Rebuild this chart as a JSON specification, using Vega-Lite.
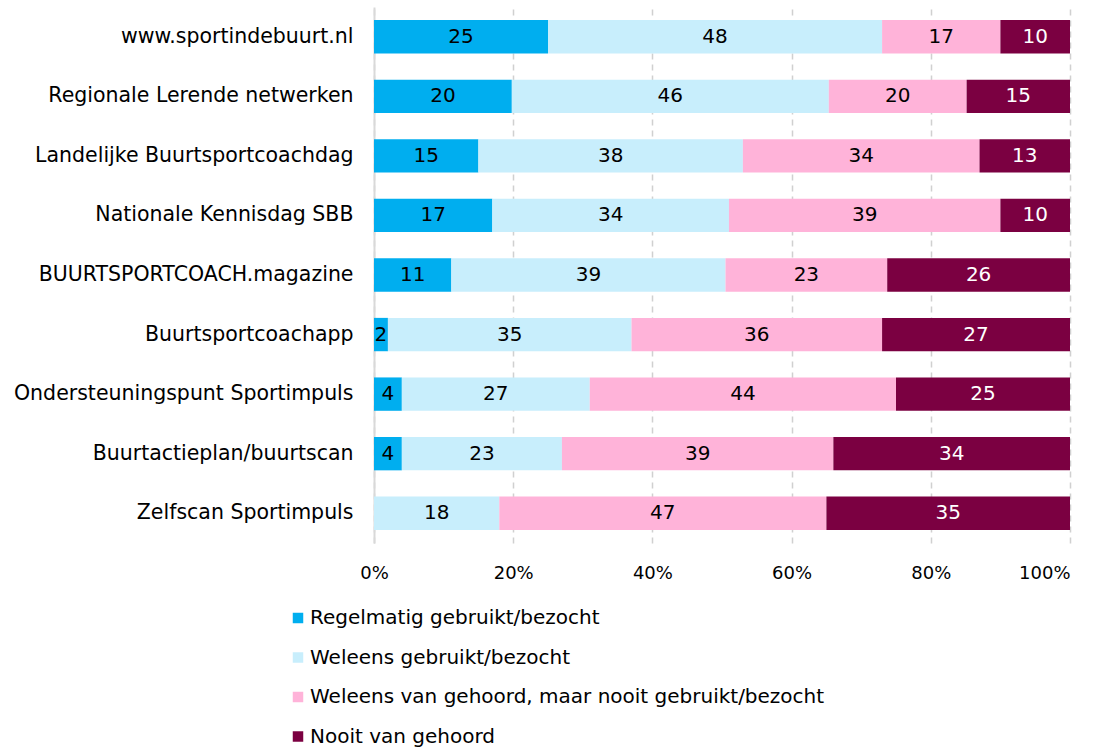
{
  "$schema": "https://vega.github.io/schema/vega-lite/v6.json",
  "width": 696,
  "height": 536,
  "autosize": "none",
  "padding": {"left": 374, "top": 7, "right": 31, "bottom": 206},
  "background": "white",
  "config": {
    "font": "DejaVu Sans",
    "view": {"stroke": null}
  },
  "data": {
    "values": [
      {"item": "www.sportindebuurt.nl", "cat": "Regelmatig gebruikt/bezocht", "k": 1, "v": 25},
      {"item": "www.sportindebuurt.nl", "cat": "Weleens gebruikt/bezocht", "k": 2, "v": 48},
      {"item": "www.sportindebuurt.nl", "cat": "Weleens van gehoord, maar nooit gebruikt/bezocht", "k": 3, "v": 17},
      {"item": "www.sportindebuurt.nl", "cat": "Nooit van gehoord", "k": 4, "v": 10},
      {"item": "Regionale Lerende netwerken", "cat": "Regelmatig gebruikt/bezocht", "k": 1, "v": 20},
      {"item": "Regionale Lerende netwerken", "cat": "Weleens gebruikt/bezocht", "k": 2, "v": 46},
      {"item": "Regionale Lerende netwerken", "cat": "Weleens van gehoord, maar nooit gebruikt/bezocht", "k": 3, "v": 20},
      {"item": "Regionale Lerende netwerken", "cat": "Nooit van gehoord", "k": 4, "v": 15},
      {"item": "Landelijke Buurtsportcoachdag", "cat": "Regelmatig gebruikt/bezocht", "k": 1, "v": 15},
      {"item": "Landelijke Buurtsportcoachdag", "cat": "Weleens gebruikt/bezocht", "k": 2, "v": 38},
      {"item": "Landelijke Buurtsportcoachdag", "cat": "Weleens van gehoord, maar nooit gebruikt/bezocht", "k": 3, "v": 34},
      {"item": "Landelijke Buurtsportcoachdag", "cat": "Nooit van gehoord", "k": 4, "v": 13},
      {"item": "Nationale Kennisdag SBB", "cat": "Regelmatig gebruikt/bezocht", "k": 1, "v": 17},
      {"item": "Nationale Kennisdag SBB", "cat": "Weleens gebruikt/bezocht", "k": 2, "v": 34},
      {"item": "Nationale Kennisdag SBB", "cat": "Weleens van gehoord, maar nooit gebruikt/bezocht", "k": 3, "v": 39},
      {"item": "Nationale Kennisdag SBB", "cat": "Nooit van gehoord", "k": 4, "v": 10},
      {"item": "BUURTSPORTCOACH.magazine", "cat": "Regelmatig gebruikt/bezocht", "k": 1, "v": 11},
      {"item": "BUURTSPORTCOACH.magazine", "cat": "Weleens gebruikt/bezocht", "k": 2, "v": 39},
      {"item": "BUURTSPORTCOACH.magazine", "cat": "Weleens van gehoord, maar nooit gebruikt/bezocht", "k": 3, "v": 23},
      {"item": "BUURTSPORTCOACH.magazine", "cat": "Nooit van gehoord", "k": 4, "v": 26},
      {"item": "Buurtsportcoachapp", "cat": "Regelmatig gebruikt/bezocht", "k": 1, "v": 2},
      {"item": "Buurtsportcoachapp", "cat": "Weleens gebruikt/bezocht", "k": 2, "v": 35},
      {"item": "Buurtsportcoachapp", "cat": "Weleens van gehoord, maar nooit gebruikt/bezocht", "k": 3, "v": 36},
      {"item": "Buurtsportcoachapp", "cat": "Nooit van gehoord", "k": 4, "v": 27},
      {"item": "Ondersteuningspunt Sportimpuls", "cat": "Regelmatig gebruikt/bezocht", "k": 1, "v": 4},
      {"item": "Ondersteuningspunt Sportimpuls", "cat": "Weleens gebruikt/bezocht", "k": 2, "v": 27},
      {"item": "Ondersteuningspunt Sportimpuls", "cat": "Weleens van gehoord, maar nooit gebruikt/bezocht", "k": 3, "v": 44},
      {"item": "Ondersteuningspunt Sportimpuls", "cat": "Nooit van gehoord", "k": 4, "v": 25},
      {"item": "Buurtactieplan/buurtscan", "cat": "Regelmatig gebruikt/bezocht", "k": 1, "v": 4},
      {"item": "Buurtactieplan/buurtscan", "cat": "Weleens gebruikt/bezocht", "k": 2, "v": 23},
      {"item": "Buurtactieplan/buurtscan", "cat": "Weleens van gehoord, maar nooit gebruikt/bezocht", "k": 3, "v": 39},
      {"item": "Buurtactieplan/buurtscan", "cat": "Nooit van gehoord", "k": 4, "v": 34},
      {"item": "Zelfscan Sportimpuls", "cat": "Regelmatig gebruikt/bezocht", "k": 1, "v": 0},
      {"item": "Zelfscan Sportimpuls", "cat": "Weleens gebruikt/bezocht", "k": 2, "v": 18},
      {"item": "Zelfscan Sportimpuls", "cat": "Weleens van gehoord, maar nooit gebruikt/bezocht", "k": 3, "v": 47},
      {"item": "Zelfscan Sportimpuls", "cat": "Nooit van gehoord", "k": 4, "v": 35}
    ]
  },
  "encoding": {
    "y": {
      "field": "item", "type": "nominal", "sort": null, "title": null,
      "scale": {"paddingInner": 0.44, "paddingOuter": 0.22},
      "axis": {
        "labelFontSize": 20.5, "labelColor": "#000000", "labelPadding": 21, "labelLimit": 400,
        "ticks": false, "domainColor": "#d9d9d9", "domainWidth": 2, "grid": false
      }
    },
    "x": {
      "field": "v", "type": "quantitative", "stack": "normalize", "title": null,
      "scale": {"domain": [0, 1]},
      "axis": {
        "format": ".0%", "values": [0, 0.2, 0.4, 0.6, 0.8, 1],
        "labelFontSize": 18, "labelColor": "#000000", "labelPadding": 21,
        "labelFlush": false,
        "labelAlign": {"expr": "datum.value == 1 ? 'right' : 'center'"},
        "domain": false, "ticks": false,
        "grid": true, "gridColor": "#d0d0d0", "gridDash": [6, 5], "gridWidth": 1.5
      }
    },
    "order": {"field": "k", "type": "quantitative"}
  },
  "layer": [
    {
      "mark": {"type": "bar"},
      "encoding": {
        "color": {
          "field": "cat", "type": "nominal", "title": null,
          "scale": {
            "domain": ["Regelmatig gebruikt/bezocht", "Weleens gebruikt/bezocht", "Weleens van gehoord, maar nooit gebruikt/bezocht", "Nooit van gehoord"],
            "range": ["#00aeef", "#c8eefc", "#ffb3d9", "#7b0041"]
          },
          "legend": {
            "orient": "none", "legendX": -86, "legendY": 601,
            "direction": "vertical", "symbolType": "square", "symbolSize": 110,
            "symbolStrokeWidth": 0, "labelFontSize": 20, "labelColor": "#000000",
            "labelLimit": 800, "rowPadding": 19.5, "labelOffset": 2
          }
        }
      }
    },
    {
      "transform": [{"filter": "datum.v > 0"}],
      "mark": {"type": "text", "fontSize": 20, "baseline": "middle", "align": "center"},
      "encoding": {
        "x": {"field": "v", "type": "quantitative", "stack": "normalize", "bandPosition": 0.5},
        "text": {"field": "v", "type": "quantitative"},
        "color": {
          "condition": {"test": "datum.k == 4", "value": "#ffffff"},
          "value": "#000000"
        }
      }
    }
  ]
}
